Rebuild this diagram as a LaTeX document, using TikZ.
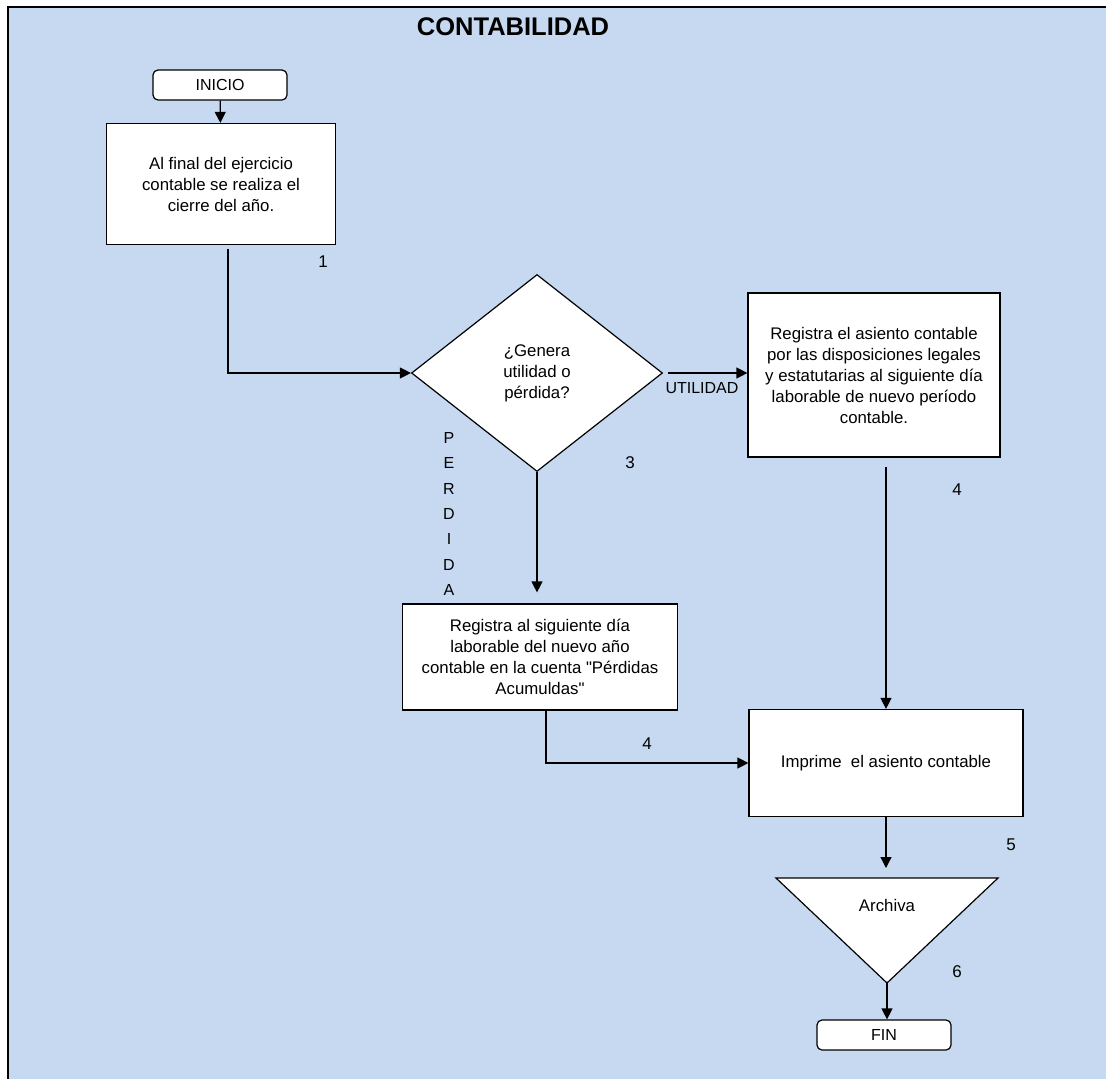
\documentclass[tikz,border=0pt]{standalone}
\usepackage{fontspec}
\setmainfont{Liberation Sans}[Ligatures=TeXOff]
\definecolor{flowbg}{RGB}{198,217,240}
\usetikzlibrary{arrows.meta,shapes.geometric,calc}

\begin{document}
\begin{tikzpicture}[x=1pt,y=-1pt,
  procbox/.style={draw,fill=white,line width=1.2pt,align=center,inner sep=0pt,
    font=\fontsize{16.8}{21}\selectfont},
  termbox/.style={draw,fill=white,rounded corners=5pt,line width=1.2pt,
    minimum width=134pt,minimum height=30pt,inner sep=0pt,
    font=\fontsize{16}{19}\selectfont},
  stepnum/.style={font=\fontsize{17}{20}\selectfont},
  flow/.style={line width=1.2pt,-{Triangle[length=11pt,width=11pt]}}
]
  % Background and frame
  \useasboundingbox (0,0) rectangle (1106,1079);
  \fill[flowbg] (8,7) rectangle (1106,1079);
  \draw[line width=2.5pt] (8,1079) -- (8,7) -- (1106,7);
  \node[font=\fontsize{25.5}{28}\selectfont\bfseries] (title) at (513,27) {CONTABILIDAD};

  % Start and year closing
  \node[termbox] (inicio) at (220,85) {INICIO};
  \node[procbox,minimum width=229pt,minimum height=121pt] (cierre) at (221,184)
    {Al final del ejercicio\\contable se realiza el\\cierre del año.};
  \node[stepnum] (n1) at (323,262) {1};

  % Decision
  \node[diamond,draw,fill=white,line width=1.2pt,minimum width=251pt,minimum height=197pt,
    inner sep=0pt,align=center,font=\fontsize{16.8}{21}\selectfont] (decision) at (537,373)
    {¿Genera\\utilidad o\\pérdida?};
  \node[stepnum] (n3) at (630,463) {3};

  % Right: profit
  \node[procbox,minimum width=252pt,minimum height=164pt] (utilidad) at (874,375)
    {Registra el asiento contable\\por las disposiciones legales\\y estatutarias al siguiente día\\laborable de nuevo período\\contable.};
  \node[font=\fontsize{16}{19}\selectfont] (lblutil) at (702,388) {UTILIDAD};
  \node[stepnum] (n4a) at (957,490) {4};

  % Left: loss
  \node[align=center,font=\fontsize{16}{25.3}\selectfont] (lblperd) at (449,514)
    {P\\E\\R\\D\\I\\D\\A};
  \node[procbox,minimum width=275pt,minimum height=106pt] (perdida) at (540,657)
    {Registra al siguiente día\\laborable del nuevo año\\contable en la cuenta "Pérdidas\\Acumuldas"};
  \node[stepnum] (n4b) at (647,744) {4};

  % Print, file, end
  \node[procbox,minimum width=274pt,minimum height=107pt] (imprime) at (886,763)
    {Imprime\ \ el asiento contable};
  \node[stepnum] (n5) at (1011,845) {5};
  \coordinate (archtop) at (887,878);
  \coordinate (archtip) at (887,983);
  \draw[fill=white,line width=1.2pt] (776,878) -- (998,878) -- (archtip) -- cycle;
  \node[font=\fontsize{16.8}{21}\selectfont] (archiva) at (887,905) {Archiva};
  \node[stepnum] (n6) at (957,972) {6};
  \node[termbox] (fin) at (884,1035) {FIN};

  % Connectors
  \draw[flow] (inicio) -- (cierre);
  \draw[flow,shorten <=4pt] ([xshift=7pt]cierre.south) |- (decision.west);
  \draw[flow,shorten <=5pt] (decision.east) -- (decision.east -| utilidad.west);
  \draw[flow,shorten >=11pt] (decision.south) -- (decision.south |- perdida.north);
  \draw[flow,shorten <=9pt] (imprime.north |- utilidad.south) -- (imprime.north);
  \draw[flow] ([xshift=6pt]perdida.south) |- (imprime.west);
  \draw[flow,shorten >=10pt] (imprime.south) -- (imprime.south |- archtop);
  \draw[flow] (archtip) -- (archtip |- fin.north);
\end{tikzpicture}
\end{document}
